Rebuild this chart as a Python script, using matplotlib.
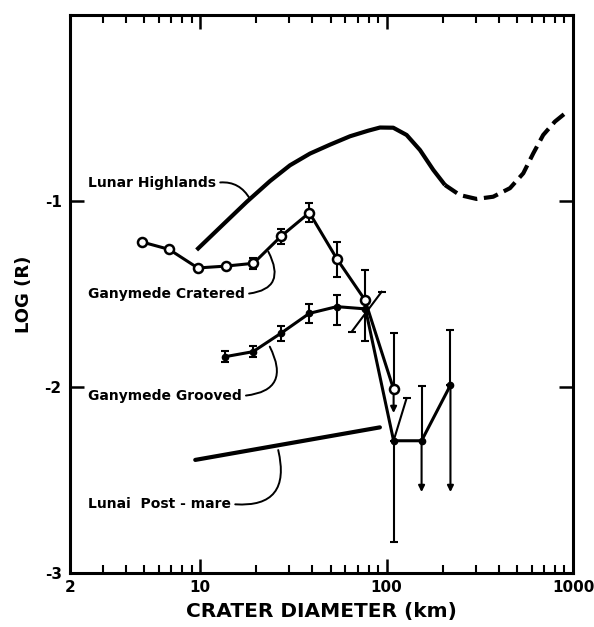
import numpy as np
import matplotlib
matplotlib.use("Agg")
import matplotlib.pyplot as plt

# ---------------- data ----------------
# Ganymede Cratered (open circles)
cr_x = [4.85, 6.8, 9.7, 13.7, 19.3, 27.1, 38.5, 54, 76.5, 109]
cr_y = [-1.22, -1.26, -1.36, -1.35, -1.335, -1.19, -1.063, -1.31, -1.532, -2.012]
cr_err_lo = [0, 0, 0, 0, 0.03, 0.04, 0.05, 0.10, 0.22, 0]
cr_err_hi = [0, 0, 0, 0, 0.03, 0.04, 0.05, 0.09, 0.16, 0.30]
# upper-limit arrow on the last cratered point
cr_arrow_x = [109]
cr_arrow_y0 = [-2.012]
cr_arrow_y1 = [-2.14]

# Ganymede Grooved (filled circles)
gr_x = [13.6, 19.2, 27.1, 38.5, 54, 77, 109, 154, 220]
gr_y = [-1.837, -1.81, -1.711, -1.604, -1.568, -1.58, -2.289, -2.289, -1.99]
gr_err_lo = [0.03, 0.03, 0.04, 0.05, 0.10, 0, 0.545, 0, 0]
gr_err_hi = [0.03, 0.03, 0.04, 0.05, 0.06, 0, 0, 0.295, 0.295]
# upper-limit arrows (point extends down to)
gr_arrow_x = [154, 220]
gr_arrow_y0 = [-2.289, -1.99]
gr_arrow_y1 = [-2.565, -2.565]
# slanted error bars drawn in original
slant_x = [[65, 94], [109, 128]]
slant_y = [[-1.702, -1.488], [-2.289, -2.06]]

# Lunar Highlands (solid part then dashed part)
lh_x = [9.56, 13.3, 17.74, 23.66, 30.3, 38.8, 49.7, 63.6, 79.6, 92.1, 108.5, 128,
        151, 178, 205.6]
lh_y = [-1.263, -1.125, -1.005, -0.893, -0.808, -0.745, -0.697, -0.652, -0.622,
        -0.605, -0.606, -0.645, -0.726, -0.833, -0.914]
lhd_x = [205.6, 247, 304, 373, 459, 541, 612, 692, 800, 906]
lhd_y = [-0.914, -0.968, -0.989, -0.977, -0.931, -0.851, -0.744, -0.645, -0.573, -0.529]

# Lunar Post-mare
pm_x = [9.4, 92]
pm_y = [-2.392, -2.217]

x_ticks = [2, 10, 100, 1000]
x_ticklabels = ["2", "10", "100", "1000"]
y_ticks = [-3, -2, -1]
y_ticklabels = ["-3", "-2", "-1"]

# ---------------- plot ----------------
plt.rcParams['font.family'] = ['DejaVu Sans']
plt.rcParams['font.weight'] = 'bold'

fig = plt.figure(figsize=(5.94, 6.27), dpi=100)
ax = fig.add_axes([70/594, 1-573/627, (573-70)/594, (573-15)/627])

ax.set_xscale('log')
ax.set_xlim(2, 1000)
ax.set_ylim(-3, 0)

lw = 2.2
# Lunar highlands
ax.plot(lh_x, lh_y, color='black', lw=3.0, solid_capstyle='butt',
        solid_joinstyle='round')
ax.plot(lhd_x, lhd_y, color='black', lw=3.0, ls=(0, (3.5, 1.6)))
# Lunar post-mare
ax.plot(pm_x, pm_y, color='black', lw=3.0, solid_capstyle='round')

# Ganymede cratered
ax.errorbar(cr_x, cr_y, yerr=[cr_err_lo, cr_err_hi], fmt='none', ecolor='black',
            elinewidth=1.5, capsize=3, capthick=1.5)
ax.plot(cr_x, cr_y, color='black', lw=lw, marker='o', ms=6.5, mfc='white',
        mec='black', mew=1.8, zorder=5)
for x, y0, y1 in zip(cr_arrow_x, cr_arrow_y0, cr_arrow_y1):
    ax.annotate('', xy=(x, y1), xytext=(x, y0),
                arrowprops=dict(arrowstyle='-|>', color='black', lw=1.5,
                                mutation_scale=9, shrinkA=4, shrinkB=0))

# Ganymede grooved
ax.errorbar(gr_x, gr_y, yerr=[gr_err_lo, gr_err_hi], fmt='none', ecolor='black',
            elinewidth=1.5, capsize=3, capthick=1.5)
ax.plot(gr_x, gr_y, color='black', lw=lw, marker='o', ms=4.5, mfc='black',
        mec='black', zorder=4)
for x, y0, y1 in zip(gr_arrow_x, gr_arrow_y0, gr_arrow_y1):
    ax.annotate('', xy=(x, y1), xytext=(x, y0),
                arrowprops=dict(arrowstyle='-|>', color='black', lw=1.5,
                                mutation_scale=9, shrinkA=0, shrinkB=0))
for sx, sy in zip(slant_x, slant_y):
    ax.plot(sx, sy, color='black', lw=1.5)
    ax.plot(sx[-1], sy[-1], marker='_', ms=6, mew=1.5, color='black')
ax.plot(slant_x[0][0], slant_y[0][0], marker='_', ms=6, mew=1.5, color='black')

# labels with leaders
fs = 10
def label(text, xy_text, xy_pt, rad):
    ax.annotate(text, xy=xy_pt, xytext=xy_text, textcoords='data',
                fontsize=fs, fontweight='bold', ha='left', va='center',
                arrowprops=dict(arrowstyle='-', color='black', lw=1.4,
                                connectionstyle='arc3,rad=%s' % rad,
                                relpos=(1.0, 0.5), shrinkA=1, shrinkB=0))

label('Lunar Highlands', (2.5, -0.903), (18.5, -0.99), -0.35)
label('Ganymede Cratered', (2.5, -1.50), (23.2, -1.273), 0.75)
label('Ganymede Grooved', (2.5, -2.048), (23.6, -1.783), 0.75)
label('Lunai  Post - mare', (2.5, -2.629), (26.2, -2.339), 0.7)

# axes styling
for s in ax.spines.values():
    s.set_linewidth(2.2)
ax.set_xticks(x_ticks)
ax.set_xticklabels(x_ticklabels, fontsize=11, fontweight='bold')
ax.set_yticks(y_ticks)
ax.set_yticklabels(y_ticklabels, fontsize=11, fontweight='bold')
ax.xaxis.set_minor_locator(matplotlib.ticker.LogLocator(base=10, subs=np.arange(2, 10)))
ax.xaxis.set_minor_formatter(matplotlib.ticker.NullFormatter())
ax.tick_params(axis='x', which='major', direction='in', length=10, width=1.8,
               top=True, bottom=True, pad=5)
ax.tick_params(axis='x', which='minor', direction='in', length=6, width=1.5,
               top=True, bottom=True)
ax.tick_params(axis='y', which='major', direction='in', length=10, width=1.8,
               left=True, right=True, pad=6)
ax.set_xlabel('CRATER DIAMETER (km)', fontsize=14.5, fontweight='bold', labelpad=5)
ax.set_ylabel('LOG (R)', fontsize=13, fontweight='bold', labelpad=8)

fig.savefig('out.png', dpi=100)
